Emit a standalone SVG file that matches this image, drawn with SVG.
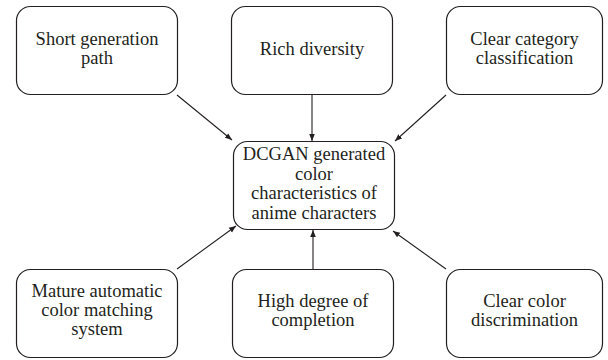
<svg xmlns="http://www.w3.org/2000/svg" width="608" height="360" viewBox="0 0 608 360">
<style>
.box{fill:#fff;stroke:#231f20;stroke-width:1.2}
.t{font-family:"Liberation Serif","Times New Roman",serif;font-size:18.5px;fill:#231f20;text-anchor:middle}
.c{stroke:#231f20;stroke-width:1.1;fill:none;marker-end:url(#ah)}
</style>
<defs>
<marker id="ah" viewBox="0 0 10 10" refX="10" refY="5" markerWidth="7" markerHeight="7" markerUnits="userSpaceOnUse" orient="auto">
<path d="M0,1 L10,5 L0,9 Z" fill="#231f20"/>
</marker>
</defs>
<rect width="608" height="360" fill="#fff"/>
<g id="connectors">
<line class="c" x1="177" y1="95" x2="232" y2="140"/>
<line class="c" x1="312" y1="94" x2="312" y2="141"/>
<line class="c" x1="446" y1="95" x2="395" y2="141"/>
<line class="c" x1="177" y1="269" x2="236" y2="226"/>
<line class="c" x1="313" y1="269" x2="313" y2="230"/>
<line class="c" x1="446" y1="269" x2="393" y2="231"/>
</g>
<g id="n1"><rect class="box" x="16.5" y="6.5" width="161" height="88" rx="14"/>
<text class="t" x="97" y="45">Short generation</text><text class="t" x="97" y="64">path</text></g>
<g id="n2"><rect class="box" x="231.5" y="6.5" width="161" height="88" rx="14"/>
<text class="t" x="312" y="55">Rich diversity</text></g>
<g id="n3"><rect class="box" x="446.5" y="6.5" width="156" height="88" rx="14"/>
<text class="t" x="524.5" y="45">Clear category</text><text class="t" x="524.5" y="64">classification</text></g>
<g id="center"><rect class="box" x="233.5" y="141.5" width="161" height="88" rx="14"/>
<text class="t" x="314" y="160">DCGAN generated</text><text class="t" x="314" y="180">color</text><text class="t" x="314" y="199">characteristics of</text><text class="t" x="314" y="219">anime characters</text></g>
<g id="n4"><rect class="box" x="16.5" y="269.5" width="161" height="88" rx="14"/>
<text class="t" x="97" y="297">Mature automatic</text><text class="t" x="97" y="316">color matching</text><text class="t" x="97" y="335">system</text></g>
<g id="n5"><rect class="box" x="232.5" y="269.5" width="161" height="88" rx="14"/>
<text class="t" x="313" y="307">High degree of</text><text class="t" x="313" y="326">completion</text></g>
<g id="n6"><rect class="box" x="446.5" y="269.5" width="156" height="88" rx="14"/>
<text class="t" x="524.5" y="307">Clear color</text><text class="t" x="524.5" y="326">discrimination</text></g>
</svg>
